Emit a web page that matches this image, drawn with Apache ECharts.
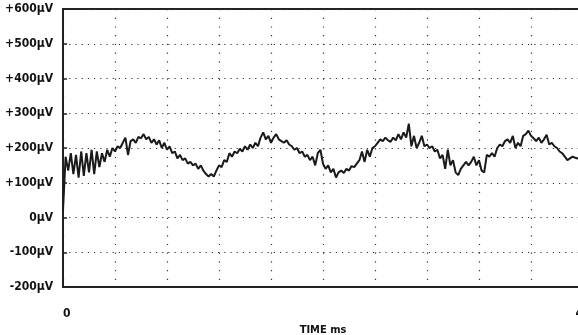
<!DOCTYPE html>
<html>
<head>
<meta charset="utf-8">
<script src="https://cdn.jsdelivr.net/npm/echarts@6/dist/echarts.min.js"></script>
<style>
html,body{margin:0;padding:0;background:#fff;}
#c{width:578px;height:335px;}
</style>
</head>
<body>
<div id="c"></div>
<script>
// Time base (ms) of the trace samples
const sampleStepMs = 0.02;
// Signal values (µV), one per sample
const signal = [
 20,175,135,185,125,180,115,190,120,185,
 130,195,125,190,145,185,160,195,175,200,
 190,205,200,215,230,180,220,225,215,232,
 228,240,225,232,215,225,210,222,200,215,
 195,205,185,190,170,180,165,170,155,160,
 150,155,140,150,135,125,118,125,118,135,
 150,145,165,160,185,175,190,185,198,190,
 205,195,210,200,215,205,230,245,225,235,
 215,230,240,225,220,215,222,210,205,195,
 200,185,190,175,180,165,175,150,185,195,
 155,140,150,130,140,115,130,135,128,140,
 135,148,145,155,165,190,160,195,175,200,
 205,215,225,220,230,222,218,230,222,240,
 225,245,230,270,205,235,200,215,235,205,
 210,200,205,190,195,170,180,140,195,150,
 165,130,122,140,150,160,150,160,175,150,
 165,135,130,180,175,185,175,200,210,205,
 220,225,215,235,200,215,205,235,240,250,
 235,228,220,230,215,225,238,210,215,205,
 200,190,185,175,165,170,175,172,170,172
];
// Axis tick labels
const yTickValues = [-200,-100,0,100,200,300,400,500,600];
const yTickLabels = ['-200µV','-100µV','0µV','+100µV','+200µV','+300µV','+400µV','+500µV','+600µV'];
const xTickLabels = {0:'0', 4:'4'};

const seriesData = signal.map((v,i)=>[+(i*sampleStepMs).toFixed(3), v]);
const FONT = "'Liberation Sans Narrow','DejaVu Sans Condensed','Roboto',sans-serif";

const chart = echarts.init(document.getElementById('c'), null, {renderer:'canvas'});
chart.setOption({
  animation:false,
  backgroundColor:'#fff',
  grid:{left:63, top:9, width:520, height:278, outerBoundsMode:'none', containLabel:false,
    show:true, borderColor:'#222', borderWidth:2, backgroundColor:'transparent'},
  xAxis:{
    type:'value', min:0, max:4, interval:0.4,
    name:'TIME ms', nameLocation:'middle', nameGap:37,
    nameTextStyle:{fontFamily:FONT, fontWeight:'bold', fontSize:11, color:'#111'},
    axisLine:{show:true, onZero:false, lineStyle:{color:'#222', width:2}},
    axisTick:{show:false},
    axisLabel:{margin:21, fontFamily:FONT, fontWeight:'bold', fontSize:12, color:'#111',
      alignMinLabel:'left', alignMaxLabel:'right',
      formatter:v=>{const k=Math.round(v*10)/10; return xTickLabels[k]!==undefined?xTickLabels[k]:'';}},
    splitLine:{show:true, lineStyle:{color:'#333', width:1.2, type:[1.2,7.5]}}
  },
  yAxis:{
    type:'value', min:-200, max:600, interval:100,
    axisLine:{show:true, onZero:false, lineStyle:{color:'#222', width:2}},
    axisTick:{show:true, inside:true, length:4, lineStyle:{color:'#222', width:1.5}},
    axisLabel:{margin:10, fontFamily:FONT, fontWeight:'bold', fontSize:12, color:'#111',
      formatter:v=>{const i=yTickValues.indexOf(v); return i>=0?yTickLabels[i]:'';}},
    splitLine:{show:true, lineStyle:{color:'#333', width:1.2, type:[1.2,5]}}
  },
  series:[{
    type:'line', data:seriesData, showSymbol:false, symbol:'none',
    lineStyle:{color:'#1a1a1a', width:2}, clip:true
  }]
});
</script>
</body>
</html>
